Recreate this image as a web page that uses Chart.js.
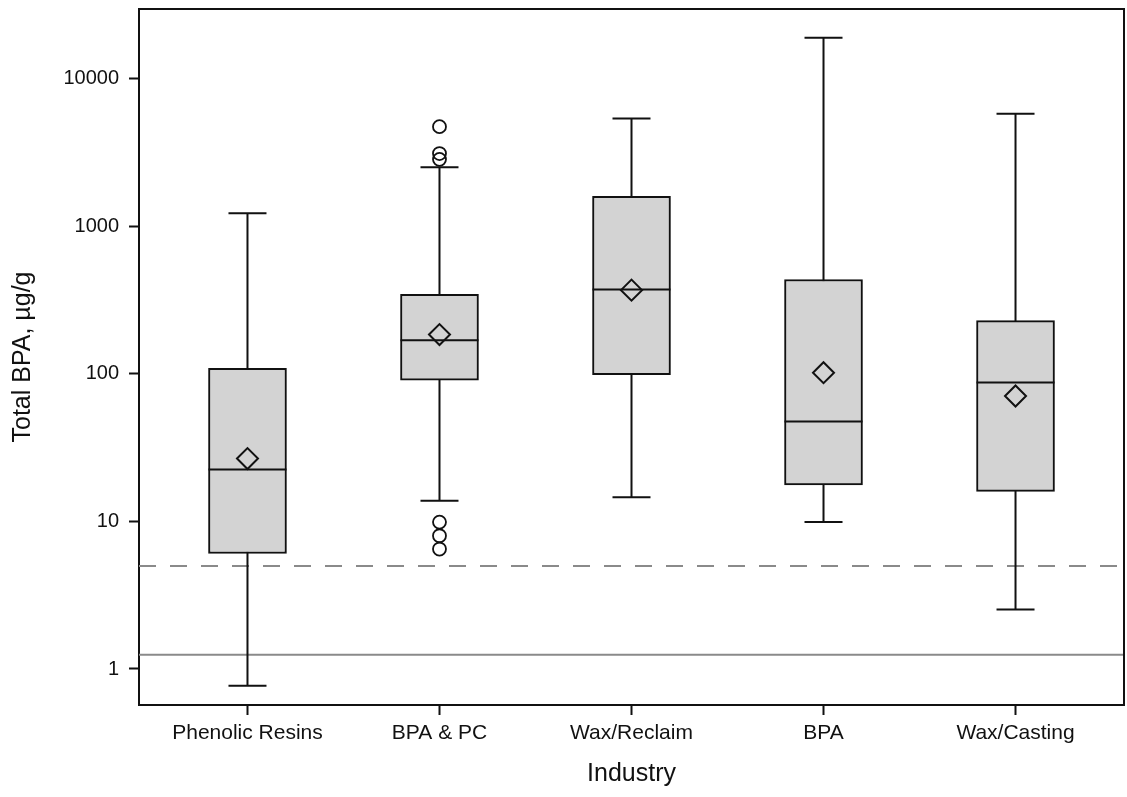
<!DOCTYPE html>
<html>
<head>
<meta charset="utf-8">
<script src="https://cdn.jsdelivr.net/npm/chart.js@4"></script>
<style>
  html, body { margin: 0; padding: 0; background: #fff; }
  #wrap { width: 1127px; height: 797px; }
</style>
</head>
<body>
<div id="wrap"><canvas id="bpa" width="1127" height="797"></canvas></div>
<script>
// box plot values (µg/g)
const categories = ['Phenolic Resins', 'BPA & PC', 'Wax/Reclaim', 'BPA', 'Wax/Casting'];
const whiskerLow = [0.77, 13.8, 14.6, 9.9, 2.53];
const q1 = [6.07, 90.6, 99, 17.7, 16];
const median = [22.5, 169, 374, 47.7, 87.4];
const q3 = [109, 347, 1600, 437, 230];
const whiskerHigh = [1230, 2520, 5400, 19000, 5800];
const means = [26.7, 185, 370, 102, 70.9];
// outliers as [category index, value]
const outliers = [[1, 4750], [1, 3120], [1, 2850], [1, 9.9], [1, 8.0], [1, 6.5]];
const yTicks = [1, 10, 100, 1000, 10000];
const refDashed = 5;
const refSolid = 1.25;

const FONT = "'Liberation Sans', Arial, Helvetica, sans-serif";

const boxExtras = {
    id: 'boxExtras',
    beforeDatasetsDraw(chart) {
        const { ctx, chartArea, scales: { x, y } } = chart;
        ctx.save();
        // reference lines
        ctx.strokeStyle = '#8a8a8a';
        ctx.lineWidth = 2;
        ctx.setLineDash([17, 14]);
        let py = y.getPixelForValue(refDashed);
        ctx.beginPath();
        ctx.moveTo(chartArea.left, py);
        ctx.lineTo(chartArea.right, py);
        ctx.stroke();
        ctx.setLineDash([]);
        py = y.getPixelForValue(refSolid);
        ctx.beginPath();
        ctx.moveTo(chartArea.left, py);
        ctx.lineTo(chartArea.right, py);
        ctx.stroke();

        // whiskers
        ctx.strokeStyle = '#111';
        ctx.lineWidth = 2;
        categories.forEach((c, i) => {
            const px = x.getPixelForValue(i);
            const lo = y.getPixelForValue(whiskerLow[i]);
            const hi = y.getPixelForValue(whiskerHigh[i]);
            ctx.beginPath();
            ctx.moveTo(px, hi);
            ctx.lineTo(px, lo);
            ctx.moveTo(px - 19, hi);
            ctx.lineTo(px + 19, hi);
            ctx.moveTo(px - 19, lo);
            ctx.lineTo(px + 19, lo);
            ctx.stroke();
        });
        ctx.restore();
    },
    afterDatasetDraw(chart, args) {
        if (args.index !== 2) return;
        const { ctx, scales: { x, y } } = chart;
        ctx.save();
        ctx.strokeStyle = '#111';
        ctx.lineWidth = 2;
        categories.forEach((c, i) => {
            const px = x.getPixelForValue(i);
            const py = y.getPixelForValue(median[i]);
            ctx.beginPath();
            ctx.moveTo(px - 39, py);
            ctx.lineTo(px + 39, py);
            ctx.stroke();
        });
        ctx.restore();
    },
    afterDraw(chart) {
        const { ctx, chartArea } = chart;
        ctx.save();
        ctx.strokeStyle = '#111';
        ctx.lineWidth = 2;
        ctx.beginPath();
        ctx.moveTo(chartArea.left, chartArea.top);
        ctx.lineTo(chartArea.right, chartArea.top);
        ctx.lineTo(chartArea.right, chartArea.bottom);
        ctx.stroke();
        ctx.restore();
    }
};

const ctx = document.getElementById('bpa');
new Chart(ctx, {
    data: {
        datasets: [
            {
                type: 'scatter',
                label: 'Mean',
                data: means.map((v, i) => ({ x: i, y: v })),
                pointStyle: 'rectRot',
                radius: 10.5,
                borderColor: '#111',
                borderWidth: 2,
                backgroundColor: 'rgba(0,0,0,0)',
                order: 1
            },
            {
                type: 'scatter',
                label: 'Outliers',
                data: outliers.map(o => ({ x: o[0], y: o[1] })),
                pointStyle: 'circle',
                radius: 6.5,
                borderColor: '#111',
                borderWidth: 1.8,
                backgroundColor: 'rgba(0,0,0,0)',
                order: 1
            },
            {
                type: 'bar',
                label: 'IQR',
                data: q1.map((v, i) => ({ x: i, y: [v, q3[i]] })),
                backgroundColor: '#d3d3d3',
                borderColor: '#111',
                borderWidth: 2,
                borderSkipped: false,
                barThickness: 78,
                order: 2
            }
        ]
    },
    options: {
        responsive: false,
        animation: false,
        layout: { autoPadding: false, padding: { top: 9, right: 3, left: 0, bottom: 0 } },
        plugins: {
            legend: { display: false },
            tooltip: { enabled: false }
        },
        scales: {
            x: {
                type: 'linear',
                offset: false,
                min: -0.565,
                max: 4.565,
                afterBuildTicks: s => { s.ticks = categories.map((c, i) => ({ value: i })); },
                afterFit: s => {
                    s.height = 92;
                    s.paddingLeft = 0;
                    s.paddingRight = 0;
                },
                ticks: {
                    callback: v => categories[v],
                    color: '#111',
                    padding: 6,
                    maxRotation: 0,
                    autoSkip: false,
                    font: { family: FONT, size: 21 }
                },
                grid: { offset: false, drawOnChartArea: false, tickLength: 10, tickWidth: 2, tickColor: '#111' },
                border: { color: '#111', width: 2 },
                title: {
                    display: true,
                    text: 'Industry',
                    color: '#111',
                    padding: { top: 0, bottom: 8 },
                    font: { family: FONT, size: 25 }
                }
            },
            y: {
                type: 'logarithmic',
                min: 0.57,
                max: 29800,
                afterBuildTicks: s => { s.ticks = yTicks.map(v => ({ value: v })); },
                afterFit: s => {
                    s.width = 139;
                    s.paddingTop = 0;
                    s.paddingBottom = 0;
                },
                ticks: {
                    callback: v => String(v),
                    color: '#111',
                    padding: 10,
                    font: { family: FONT, size: 20 }
                },
                grid: { drawOnChartArea: false, tickLength: 10, tickWidth: 2, tickColor: '#111' },
                border: { color: '#111', width: 2 },
                title: {
                    display: true,
                    text: 'Total BPA, µg/g',
                    color: '#111',
                    padding: { top: 8, bottom: 0 },
                    font: { family: FONT, size: 25 }
                }
            }
        }
    },
    plugins: [boxExtras]
});
</script>
</body>
</html>
